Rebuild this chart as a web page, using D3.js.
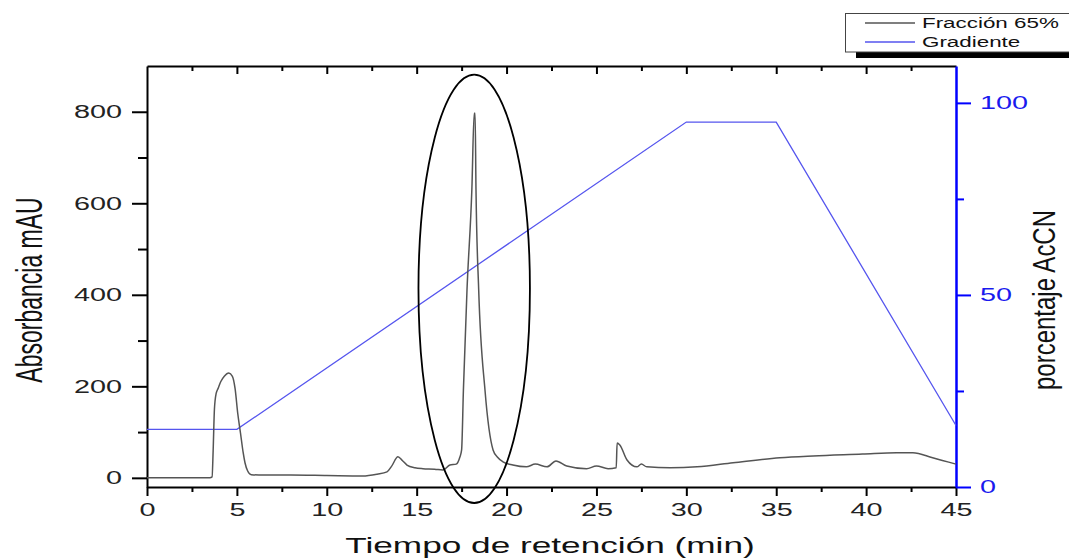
<!DOCTYPE html>
<html>
<head>
<meta charset="utf-8">
<script src="https://cdn.jsdelivr.net/npm/d3@7"></script>
<style>
  body { margin: 0; background: #fff; }
  svg text { font-family: "Liberation Sans", Arial, sans-serif; }
</style>
</head>
<body>
<svg id="chart" width="1069" height="558"></svg>
<script>
"use strict";

// chromatogram (Fracción 65%), time in min / absorbance in mAU
const timeMin = [0, 3.5, 3.62, 3.68, 3.75, 3.85, 3.95, 4.1, 4.3, 4.55, 4.75, 4.9, 5.05, 5.2, 5.35, 5.45, 5.6, 5.8,
  6.5, 8, 10, 12, 12.8, 13.35, 13.6, 13.96, 14.2, 14.46, 14.9, 15.35, 16.0, 16.46, 16.85, 17.2, 17.4, 17.5,
  17.6, 17.8, 18.07, 18.2, 18.25, 18.3, 18.45, 18.8, 19.25, 19.5, 19.8, 20.35, 21.1, 21.6, 22.25, 22.75,
  23.35, 24.45, 25.0, 25.65, 26.1, 26.15, 26.3, 26.7, 27.25, 27.5, 27.8, 29.1, 30.6, 32.6, 35.2, 37.05,
  39.8, 41.7, 42.6, 43.7, 45];
const absorb = [0, 0, 2, 60, 150, 185, 195, 210, 222, 229, 222, 195, 140, 98, 55, 33, 15, 7,
  6, 6, 5, 4, 8, 13, 25, 46, 38, 28, 22, 20, 19, 17, 28, 30, 45, 61,
  192, 411, 630, 797, 797, 630, 411, 192, 61, 45, 35, 28, 24, 30, 24, 37,
  26, 20, 26, 20, 22, 76, 72, 39, 24, 30, 24, 22, 24, 33, 44, 48,
  52, 55, 55, 44, 30];

// gradient (% AcCN)
const gradTime = [0, 5, 30, 35, 45];
const gradPct = [15, 15, 95, 95, 16];

// tick values
const xMajor = [0, 5, 10, 15, 20, 25, 30, 35, 40, 45];
const xMinor = [2.5, 7.5, 12.5, 17.5, 22.5, 27.5, 32.5, 37.5, 42.5];
const yLeftMajor = [0, 200, 400, 600, 800];
const yLeftMinor = [100, 300, 500, 700];
const yRightMajor = [0, 50, 100];
const yRightMinor = [25, 75];

// highlighted peak (ellipse), in data units
const peakMark = { t: 18.2, mau: 413, dt: 3.1, dmau: 468 };

const legendItems = [
  { label: "Fracción 65%", color: "#555" },
  { label: "Gradiente", color: "#5555ee" }
];

const svg = d3.select("#chart");
const mLeft = 147, mRight = 956, mTop = 66, mBottom = 487;
const stretch = 1.6;

const x = d3.scaleLinear().domain([0, 45]).range([mLeft, mRight]);
const yL = d3.scaleLinear().domain([-20, 900]).range([mBottom, mTop]);
const yR = d3.scaleLinear().domain([0, 109.6]).range([mBottom, mTop]);

function styleAxis(g, color) {
  g.selectAll("path.domain").attr("stroke", color).attr("stroke-width", 2);
  g.selectAll(".tick line").attr("stroke", color).attr("stroke-width", 2);
  g.selectAll(".tick text")
    .attr("fill", color)
    .style("font-size", "18px");
}

// bottom axis
const gx = svg.append("g").attr("transform", `translate(0,${mBottom})`)
  .call(d3.axisBottom(x).tickValues(xMajor).tickSize(9).tickSizeOuter(0).tickPadding(7));
styleAxis(gx, "#000");
gx.selectAll(".tick text").attr("transform", `scale(${stretch},1)`).attr("fill", "#222");
const gxm = svg.append("g").attr("transform", `translate(0,${mBottom})`)
  .call(d3.axisBottom(x).tickValues(xMinor).tickSize(5).tickFormat(""));
styleAxis(gxm, "#000");
gxm.select("path.domain").remove();

// top frame with inward ticks
const gt = svg.append("g").attr("transform", `translate(0,${mTop})`)
  .call(d3.axisBottom(x).tickValues(xMajor.slice(1, -1)).tickSize(8).tickSizeOuter(0).tickFormat(""));
styleAxis(gt, "#000");
const gtm = svg.append("g").attr("transform", `translate(0,${mTop})`)
  .call(d3.axisBottom(x).tickValues(xMinor).tickSize(5).tickFormat(""));
styleAxis(gtm, "#000");
gtm.select("path.domain").remove();

// left axis
const gl = svg.append("g").attr("transform", `translate(${mLeft},0)`)
  .call(d3.axisLeft(yL).tickValues(yLeftMajor).tickSize(15).tickSizeOuter(0));
styleAxis(gl, "#000");
gl.selectAll(".tick text").attr("x", -25 / stretch).attr("transform", `scale(${stretch},1)`).attr("fill", "#222");
const glm = svg.append("g").attr("transform", `translate(${mLeft},0)`)
  .call(d3.axisLeft(yL).tickValues(yLeftMinor).tickSize(9).tickFormat(""));
styleAxis(glm, "#000");
glm.select("path.domain").remove();

// right axis (blue)
const gr = svg.append("g").attr("transform", `translate(${mRight},0)`)
  .call(d3.axisRight(yR).tickValues(yRightMajor).tickSize(15).tickSizeOuter(0));
styleAxis(gr, "#0000ff");
gr.selectAll("path.domain").attr("stroke-width", 2.5);
gr.selectAll(".tick text").attr("x", 24 / stretch).attr("transform", `scale(${stretch},1)`).attr("fill", "#1a1aee");
const grm = svg.append("g").attr("transform", `translate(${mRight},0)`)
  .call(d3.axisRight(yR).tickValues(yRightMinor).tickSize(8).tickFormat(""));
styleAxis(grm, "#0000ff");
grm.select("path.domain").remove();

// series
const chrom = timeMin.map((t, i) => [t, absorb[i]]);
const grad = gradTime.map((t, i) => [t, gradPct[i]]);

svg.append("path")
  .datum(grad)
  .attr("fill", "none")
  .attr("stroke", legendItems[1].color)
  .attr("stroke-width", 1.3)
  .attr("d", d3.line().x(d => x(d[0])).y(d => yR(d[1])));

svg.append("path")
  .datum(chrom)
  .attr("fill", "none")
  .attr("stroke", legendItems[0].color)
  .attr("stroke-width", 1.5)
  .attr("stroke-linejoin", "round")
  .attr("d", d3.line().x(d => x(d[0])).y(d => yL(d[1])).curve(d3.curveMonotoneX));

// ellipse around main peak
svg.append("ellipse")
  .attr("cx", x(peakMark.t))
  .attr("cy", yL(peakMark.mau))
  .attr("rx", x(peakMark.t + peakMark.dt) - x(peakMark.t))
  .attr("ry", yL(0) - yL(peakMark.dmau))
  .attr("fill", "none")
  .attr("stroke", "#000")
  .attr("stroke-width", 1.8);

// axis titles
svg.append("text")
  .attr("transform", `translate(550,553) scale(${stretch},1)`)
  .attr("text-anchor", "middle")
  .style("font-size", "22px")
  .attr("fill", "#111")
  .text("Tiempo de retención (min)");

svg.append("text")
  .attr("transform", `translate(42,290) scale(${stretch},1) rotate(-90)`)
  .attr("text-anchor", "middle")
  .style("font-size", "23px")
  .attr("fill", "#111")
  .text("Absorbancia mAU");

svg.append("text")
  .attr("transform", `translate(1055,300) scale(1.3,1) rotate(-90)`)
  .attr("text-anchor", "middle")
  .style("font-size", "24px")
  .attr("fill", "#111")
  .text("porcentaje AcCN");

// legend
const lg = svg.append("g");
lg.append("rect").attr("x", 856).attr("y", 52).attr("width", 220).attr("height", 6).attr("fill", "#000");
lg.append("rect").attr("x", 845.5).attr("y", 13.5).attr("width", 230).attr("height", 38.5)
  .attr("fill", "#fff").attr("stroke", "#444").attr("stroke-width", 1);
legendItems.forEach((d, i) => {
  const yy = 23 + i * 19;
  lg.append("line").attr("x1", 865).attr("x2", 915).attr("y1", yy).attr("y2", yy)
    .attr("stroke", d.color).attr("stroke-width", 1.3);
  lg.append("text")
    .attr("transform", `translate(922,${yy + 5}) scale(${stretch},1)`)
    .style("font-size", "14px")
    .attr("fill", "#111")
    .text(d.label);
});
</script>
</body>
</html>
